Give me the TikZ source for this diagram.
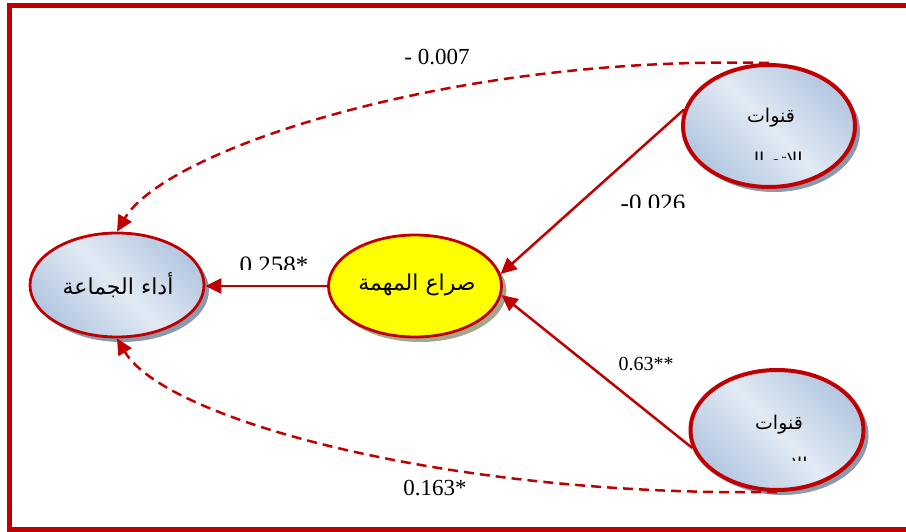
\documentclass[tikz,border=0pt]{standalone}
\usepackage{fontspec}
\setmainfont{Liberation Serif}
\newfontfamily\arabicfont[Script=Arabic]{DejaVu Sans}
\TeXXeTstate=1
\usetikzlibrary{shapes.geometric,arrows.meta,shadows}
\definecolor{rc}{HTML}{C00000}
\definecolor{blD}{HTML}{B3C7E1}
\definecolor{blL}{HTML}{E2EAF4}
\definecolor{shB}{HTML}{8C98AC}
\definecolor{shY}{HTML}{A3A88C}
\definecolor{yel}{HTML}{FFFF00}
\tikzset{
  ellbase/.style={ellipse, draw=rc, inner sep=0pt, minimum width=174pt},
  blueell/.style={ellbase, top color=blD, bottom color=blD, middle color=blL, shading angle=-45,
     drop shadow={shadow xshift=5pt, shadow yshift=-5pt, fill=shB, opacity=1}},
  yelell/.style={ellbase, fill=yel,
     drop shadow={shadow xshift=5pt, shadow yshift=-5pt, fill=shY, opacity=1}},
  artext/.style={font=\arabicfont\fontsize{22}{26}\selectfont, inner sep=0pt},
  arsmall/.style={font=\arabicfont\fontsize{19}{23}\selectfont, inner sep=0pt},
  numlab/.style={inner sep=1pt, anchor=base},
  solidarrow/.style={draw=rc, line width=2.5pt, -{Triangle[length=16pt,width=15pt]}},
  dasharrow/.style={draw=rc, line width=2.5pt, dash pattern=on 10pt off 6pt, -{Triangle[length=16pt,width=15pt]}},
}
\begin{document}
\begin{tikzpicture}[x=1pt,y=-1pt]
\useasboundingbox (0,0) rectangle (906,532);
\fill[white] (0,0) rectangle (906,532);
% frame
\draw[rc, line width=5pt] (906,5.5) -- (9.5,5.5) -- (9.5,529.5) -- (906,529.5);

% ellipses
\node[blueell, line width=2.8pt, minimum width=174pt, minimum height=104pt] (A) at (117,285) {};
\node[yelell, line width=2.8pt, minimum width=173pt, minimum height=102pt] (M) at (415,286) {};
\node[blueell, line width=4pt, minimum width=172pt, minimum height=122pt] (T) at (769,126) {};
\node[blueell, line width=4pt, minimum width=173pt, minimum height=120pt] (B) at (777,430) {};

% texts in ellipses
\node[artext] (tA) at (118,285) {\beginR أداء الجماعة\endR};
\node[artext] (tM) at (417,285) {\beginR صراع المهمة\endR};
\node[arsmall] (tT) at (771,118) {\beginR قنوات\endR};
\node[arsmall] (tB) at (779,425) {\beginR قنوات\endR};
\begin{scope}
  \clip (700,140) rectangle (850,160);
  \node[arsmall, anchor=base] (tT2) at (774,167) {\beginR الاتصال\endR};
\end{scope}
\begin{scope}
  \clip (792,440) rectangle (812,460.5);
  \node[arsmall, anchor=base] (tB2) at (779,471) {\beginR الاتصال\endR};
\end{scope}

% connectors
\draw[solidarrow] (M.west) -- (M.west -| A.east);
\draw[solidarrow] (T.169) -- (M.8);
\draw[solidarrow] (B.192) -- (M.-6);
\draw[dasharrow] (T.north) .. controls (450,55) and (165,150) .. (A.north);
\draw[dasharrow] (B.south) .. controls (450,497) and (165,420) .. (A.south);

% labels
\node[numlab, font=\fontsize{23}{27}\selectfont] (l1) at (437,65) {- 0.007};
\node[numlab, font=\fontsize{23}{27}\selectfont, fill=white] (l2) at (435,495) {0.163*};
\node[numlab, font=\fontsize{20}{24}\selectfont] (l3) at (646,370) {0.63**};
\begin{scope}
  \clip (600,180) rectangle (720,208);
  \node[numlab, font=\fontsize{25}{30}\selectfont] (l4) at (653,212) {-0.026};
\end{scope}
\begin{scope}
  \clip (220,240) rectangle (330,269);
  \node[numlab, font=\fontsize{25}{30}\selectfont] (l5) at (274,273) {0.258*};
\end{scope}
\end{tikzpicture}
\end{document}
